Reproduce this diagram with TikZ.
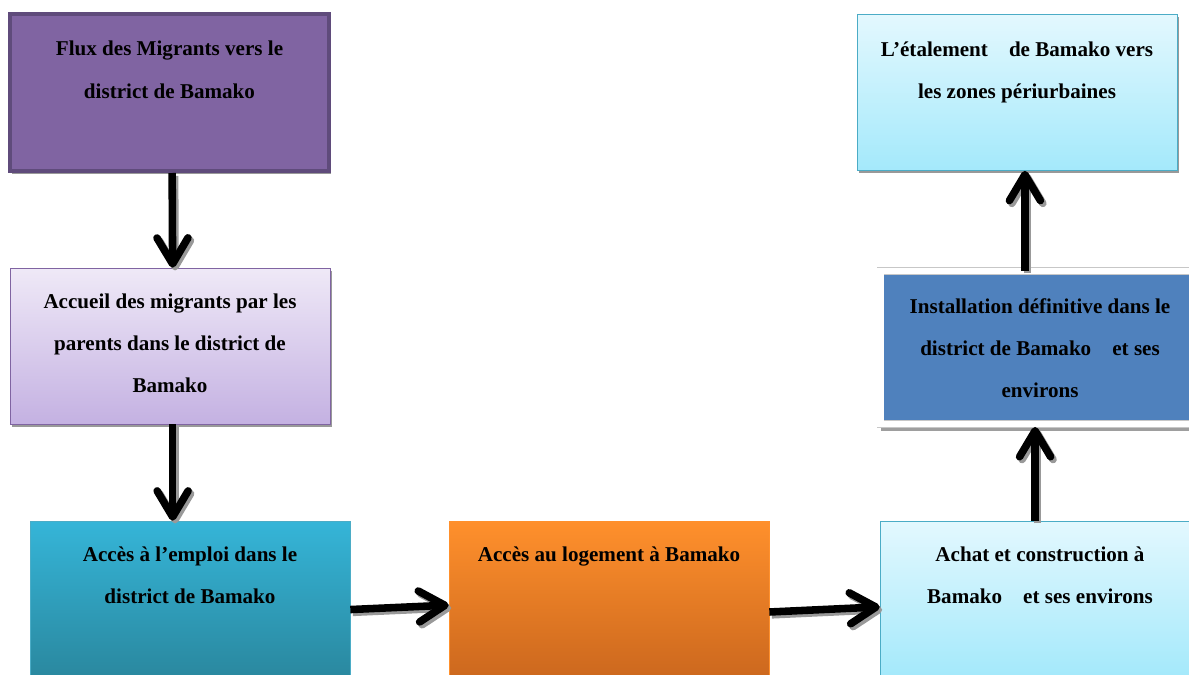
\documentclass[tikz,border=0pt]{standalone}
\usepackage{fontspec}
\setmainfont{Liberation Serif}
\usetikzlibrary{arrows.meta,positioning,shadows}

\definecolor{violetfonce}{HTML}{5F4B7B}
\definecolor{violet}{HTML}{8064A2}
\definecolor{lavandehaut}{HTML}{EFE9F7}
\definecolor{lavandebas}{HTML}{C4B1E2}
\definecolor{turquoisehaut}{HTML}{35B5D8}
\definecolor{turquoisebas}{HTML}{2A889F}
\definecolor{orangehaut}{HTML}{FF902C}
\definecolor{orangebas}{HTML}{CC681E}
\definecolor{cielhaut}{HTML}{E3F8FE}
\definecolor{cielbas}{HTML}{A4E9FB}
\definecolor{cielbord}{HTML}{4BACC6}
\definecolor{bleu}{HTML}{4F81BD}

\tikzset{
  boite/.style={rectangle, minimum width=6.4cm, minimum height=3.12cm, inner sep=0pt},
  texte/.style={align=center, inner sep=0pt, font=\fontsize{12}{24}\selectfont\bfseries},
  ombre/.style={drop shadow={shadow xshift=1.2pt, shadow yshift=-1.6pt, fill=black!40, opacity=1}},
  cadre/.style={draw=black!22, line width=0.4pt, double=white, double distance=3.6pt,
    drop shadow={shadow xshift=0pt, shadow yshift=-3.8pt, fill=black!38, opacity=1}},
  fleche/.style={line width=4.3pt, -{Straight Barb[length=5.2mm, width=6.2mm, round]}},
  ombrefleche/.style={fleche, draw=black!40, transform canvas={xshift=1.4pt, yshift=-1.6pt}},
}

\begin{document}
\begin{tikzpicture}[x=0.02cm, y=-0.02cm]
			\useasboundingbox (0,0) rectangle (1189,675);
			\clip (0,0) rectangle (1189,675);

			% boites
			\node[boite, minimum width=6.38cm, minimum height=3.14cm, fill=violet, draw=violetfonce, line width=2.3pt, ombre] (b1) at (169.5,92.5) {};
			\node[boite, draw=violet, top color=lavandehaut, bottom color=lavandebas, ombre] (b2) at (170,346) {};
			\node[boite, draw=cielbord, top color=turquoisehaut, bottom color=turquoisebas] (b3) at (190,599) {};
			\node[boite, draw=orangehaut, top color=orangehaut, bottom color=orangebas] (b4) at (609,599) {};
			\node[boite, draw=cielbord, top color=cielhaut, bottom color=cielbas] (b5) at (1040,599) {};
			\node[boite, minimum width=6.38cm, minimum height=3.06cm, fill=bleu, cadre] (b6) at (1040,347.5) {};
			\node[boite, draw=cielbord, top color=cielhaut, bottom color=cielbas, ombre] (b7) at (1017,92.5) {};

			% textes
			\node[texte, below=0.58cm of b1.north] (t1) {Flux des Migrants vers le\\district de Bamako};
			\node[texte, below=0.52cm of b2.north] (t2) {Accueil des migrants par les\\parents dans le district de\\Bamako};
			\node[texte, below=0.52cm of b3.north] (t3) {Accès à l’emploi dans le\\district de Bamako};
			\node[texte, below=0.52cm of b4.north] (t4) {Accès au logement à Bamako};
			\node[texte, below=0.52cm of b5.north] (t5) {Achat et construction à\\Bamako\hspace{0.75em} et ses environs};
			\node[texte, below=0.55cm of b6.north] (t6) {Installation définitive dans le\\district de Bamako\hspace{0.75em} et ses\\environs};
			\node[texte, below=0.54cm of b7.north] (t7) {L’étalement\hspace{0.75em} de Bamako vers\\les zones périurbaines};

			% fleches
			\coordinate (haut6) at ([xshift=4.5pt]b7.south);
			\foreach \trait in {ombrefleche,fleche} {
				\draw[\trait] ([xshift=1.5pt]b1.south) -- ([xshift=1.5pt]b2.north);
				\draw[\trait] ([xshift=1.5pt]b2.south) -- ([xshift=1.5pt]b2.south |- b3.north);
				\draw[\trait] ([yshift=-6pt]b3.east) -- ([yshift=-3.5pt]b4.west);
				\draw[\trait] ([yshift=-7.4pt]b4.east) -- ([yshift=-4.5pt]b5.west);
				\draw[\trait] ([xshift=-2.8pt]b5.north) -- ([xshift=-2.8pt,yshift=-1.5pt]b6.south);
				\draw[\trait] (haut6 |- b6.north) -- (haut6);
			}
\end{tikzpicture}
\end{document}
